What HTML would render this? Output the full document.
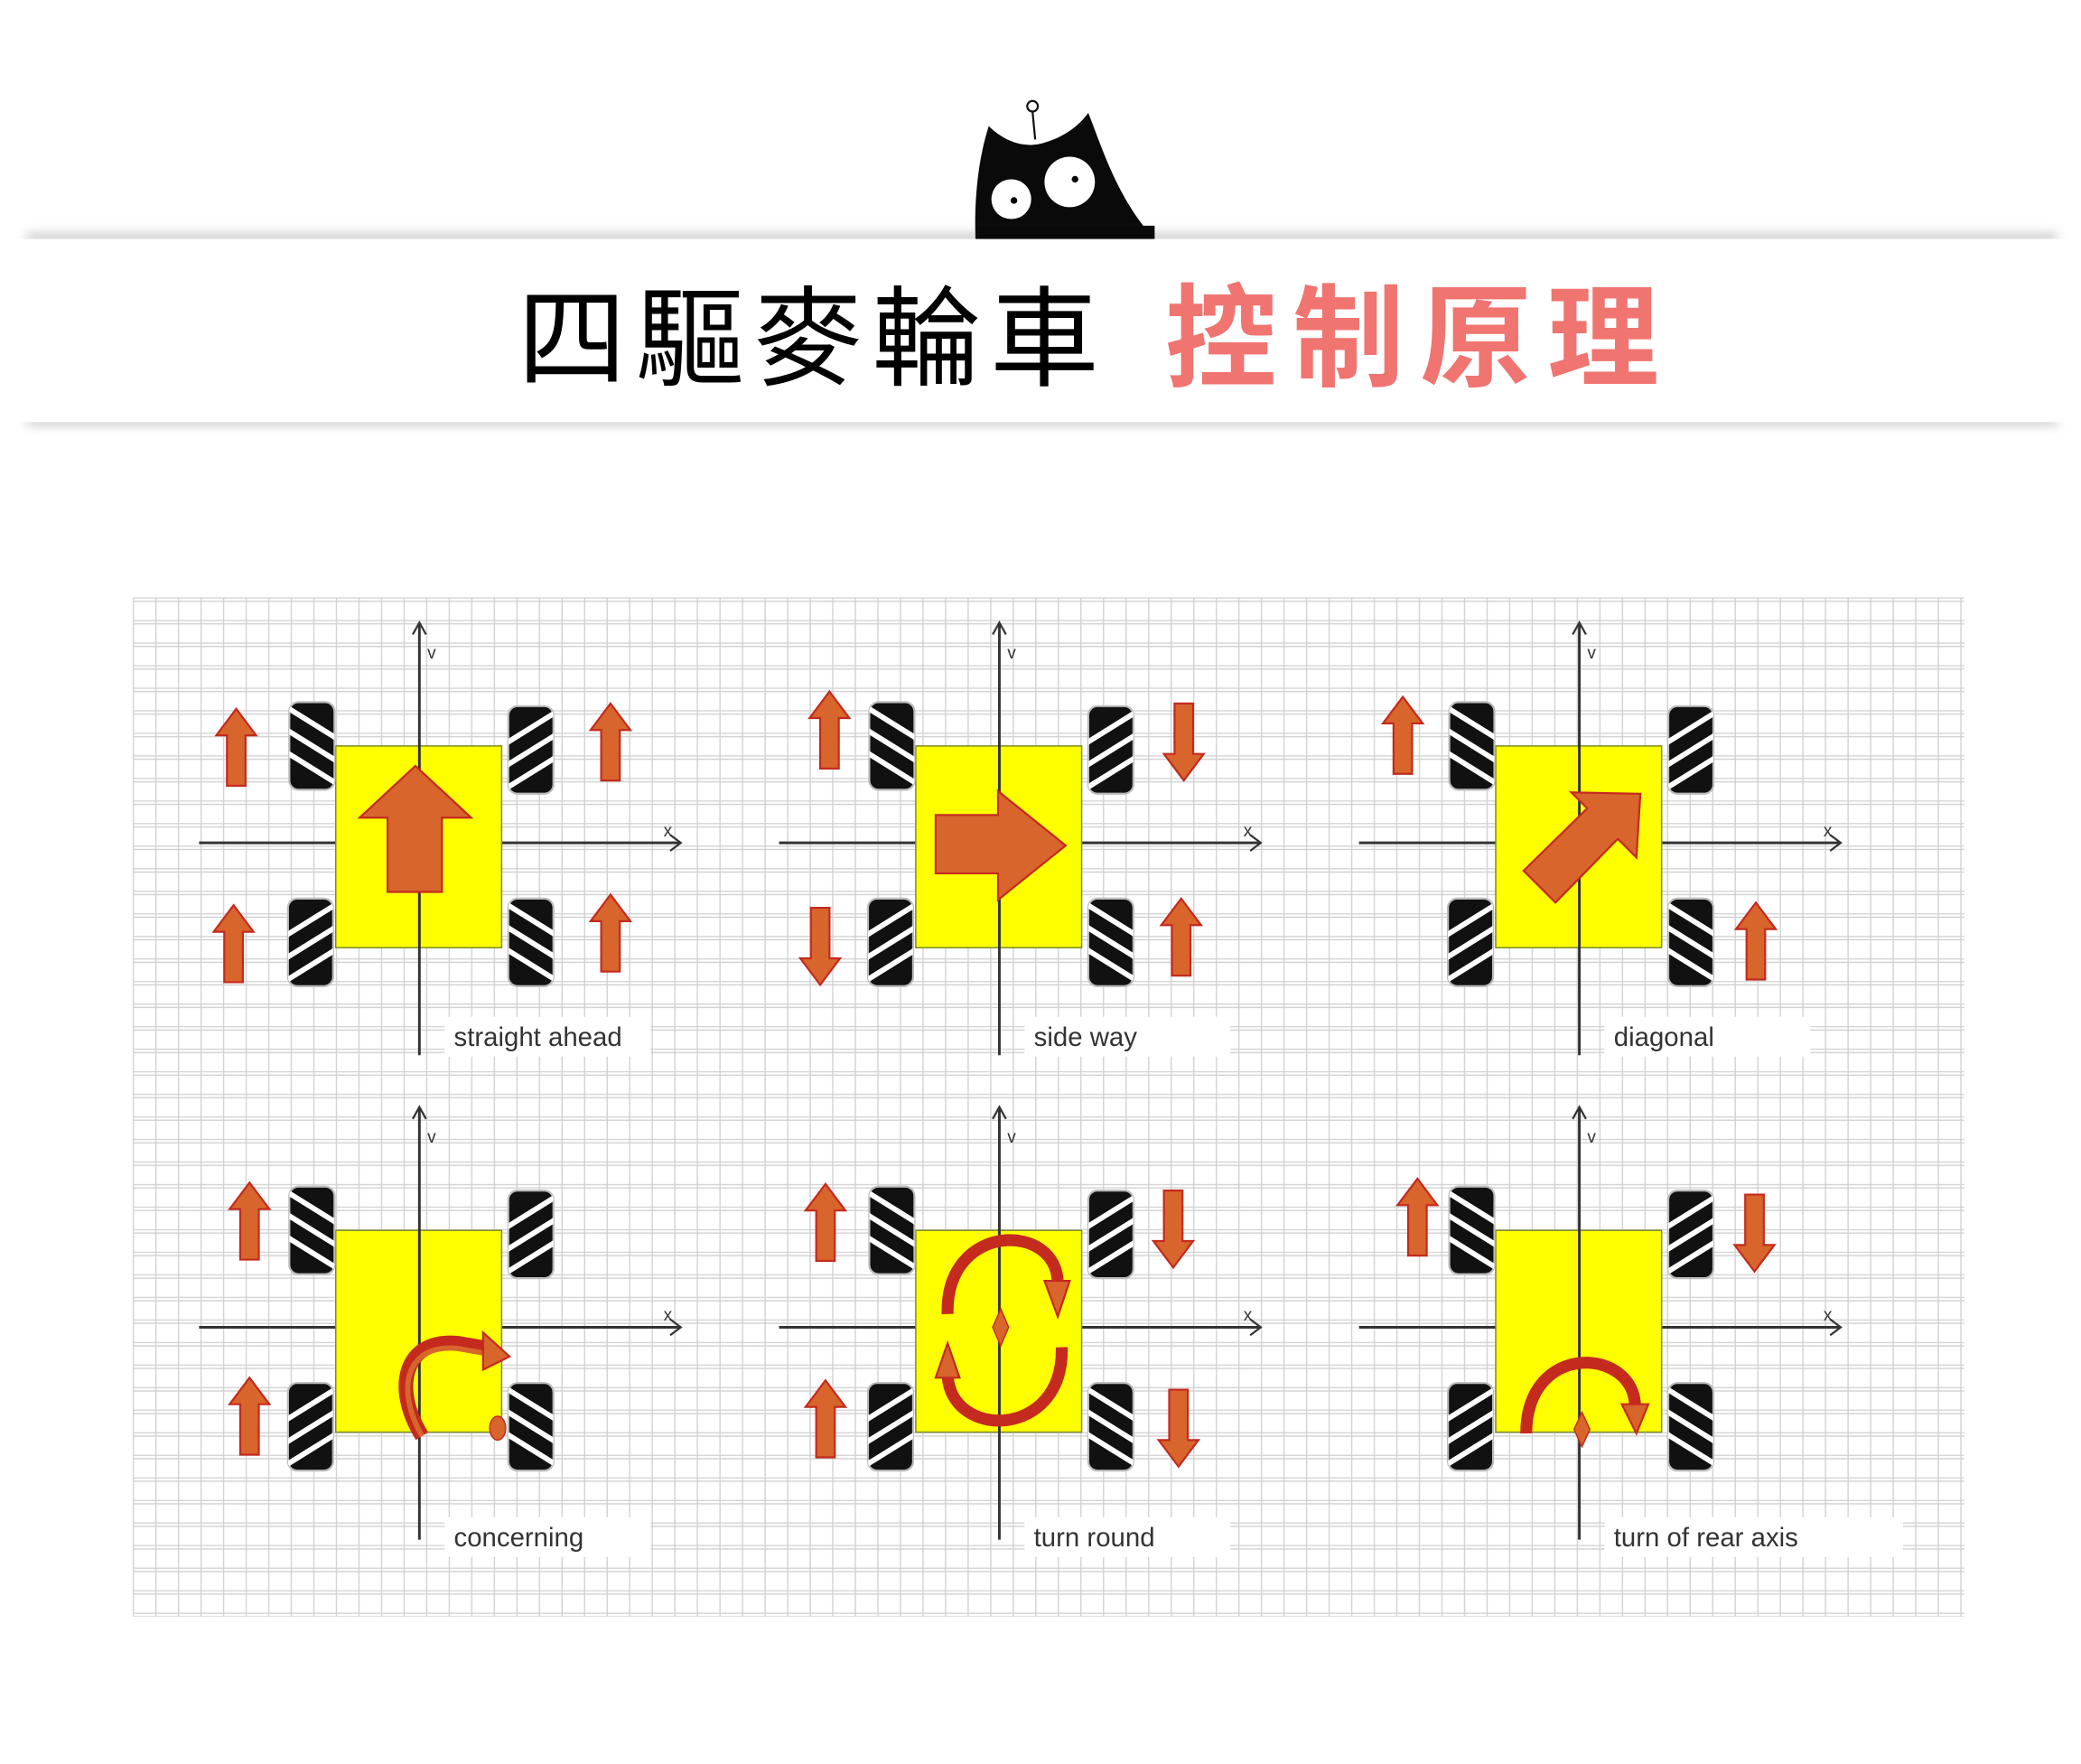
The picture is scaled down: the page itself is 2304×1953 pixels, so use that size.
<!DOCTYPE html>
<html><head><meta charset="utf-8"><style>
html,body{margin:0;padding:0;background:#fff;}
svg{display:block}
</style></head><body>
<svg width="2304" height="1953" viewBox="0 0 1568 1329" xmlns="http://www.w3.org/2000/svg">
<defs>
<pattern id="grid" width="17" height="17" patternUnits="userSpaceOnUse" x="100" y="450">
<rect width="17" height="17" fill="#fff"/>
<path d="M0 0.5H17 M0 3H17 M0.5 0V17" stroke="#d0d0d0" stroke-width="0.9" fill="none"/>
</pattern>
<filter id="blur" x="-5%" y="-200%" width="110%" height="500%"><feGaussianBlur stdDeviation="4"/></filter>
<clipPath id="wc"><rect x="0" y="0" width="34" height="66" rx="7"/></clipPath>
<g id="wA"><rect x="0" y="0" width="34" height="66" rx="7" fill="#111" stroke="#bbb" stroke-width="1.5"/>
<g clip-path="url(#wc)" stroke="#fff" stroke-width="4"><line x1="-5" y1="2" x2="40" y2="30"/><line x1="-5" y1="19" x2="40" y2="47"/><line x1="-5" y1="36" x2="40" y2="64"/></g></g>
<g id="wB"><rect x="0" y="0" width="34" height="66" rx="7" fill="#111" stroke="#bbb" stroke-width="1.5"/>
<g clip-path="url(#wc)" stroke="#fff" stroke-width="4"><line x1="-5" y1="30" x2="40" y2="2"/><line x1="-5" y1="47" x2="40" y2="19"/><line x1="-5" y1="64" x2="40" y2="36"/></g></g>
<path id="up" d="M0,0 L15,20 L7,20 L7,58 L-7,58 L-7,20 L-15,20 Z" fill="#d8652c" stroke="#c42a1e" stroke-width="1.5"/>
<g id="panel">
<line x1="150" y1="635" x2="512" y2="635" stroke="#333" stroke-width="2"/>
<path d="M505,629 L513,635 L505,641" fill="none" stroke="#333" stroke-width="1.5"/>
<text x="500" y="630" font-family="Liberation Sans,sans-serif" font-size="13" fill="#333">x</text>
<rect x="253" y="562" width="125" height="152" fill="#ffff00" stroke="#7a8a20" stroke-width="1"/>
<line x1="316" y1="470" x2="316" y2="795" stroke="#333" stroke-width="2"/>
<path d="M311,478 L316,469 L321,478" fill="none" stroke="#333" stroke-width="1.5"/>
<text x="322" y="496" font-family="Liberation Sans,sans-serif" font-size="13" fill="#333">v</text>
<use href="#wA" x="218" y="529"/>
<use href="#wB" x="383" y="532"/>
<use href="#wB" x="217" y="677"/>
<use href="#wA" x="383" y="677"/>
</g>
</defs>

<!-- cat -->
<line x1="780" y1="105" x2="778" y2="84" stroke="#111" stroke-width="1.5"/>
<circle cx="778" cy="80" r="4" fill="#fff" stroke="#111" stroke-width="1.5"/>
<path d="M735,180 C734,150 737,120 745,95 C755,105 770,112 785,108 C800,104 812,96 820,85 C830,110 842,150 870,180 Z" fill="#0a0a0a"/>
<circle cx="762" cy="150" r="15" fill="#fff"/><circle cx="806" cy="137" r="19" fill="#fff"/>
<circle cx="764" cy="151" r="2.5" fill="#000"/><circle cx="810" cy="135" r="2.5" fill="#000"/>

<!-- title band -->
<rect x="20" y="176" width="1530" height="6" fill="#999" filter="url(#blur)" opacity="0.6"/>
<rect x="20" y="314" width="1530" height="6" fill="#999" filter="url(#blur)" opacity="0.6"/>
<rect x="10" y="180" width="1550" height="138" fill="#fff"/>
<rect x="735" y="170" width="135" height="10" fill="#0a0a0a"/>
<text x="390" y="284" font-family="'Liberation Sans','Noto Sans CJK TC',sans-serif" font-size="82" fill="#000" letter-spacing="7">四驅麥輪車</text>
<text x="878" y="284" font-family="'Liberation Sans','Noto Sans CJK TC',sans-serif" font-size="84" font-weight="bold" fill="#f07470" letter-spacing="12">控制原理</text>

<!-- grid -->
<rect x="100" y="450" width="1380" height="768" fill="url(#grid)"/>

<!-- panels -->
<use href="#panel"/>
<use href="#panel" x="437"/>
<use href="#panel" x="874"/>
<use href="#panel" y="365"/>
<use href="#panel" x="437" y="365"/>
<use href="#panel" x="874" y="365"/>

<g font-family="'Comic Sans MS','Liberation Sans',sans-serif" font-size="20" fill="#333">
<rect x="335" y="766" width="155" height="30" fill="#fff"/><text x="342" y="788">straight ahead</text>
<rect x="772" y="766" width="155" height="30" fill="#fff"/><text x="779" y="788">side way</text>
<rect x="1209" y="766" width="155" height="30" fill="#fff"/><text x="1216" y="788">diagonal</text>
<rect x="335" y="1143" width="155" height="30" fill="#fff"/><text x="342" y="1165">concerning</text>
<rect x="772" y="1143" width="155" height="30" fill="#fff"/><text x="779" y="1165">turn round</text>
<rect x="1209" y="1143" width="225" height="30" fill="#fff"/><text x="1216" y="1165">turn of rear axis</text>
</g>

<!-- P1 -->
<use href="#up" x="178" y="534"/><use href="#up" x="460" y="530"/>
<use href="#up" x="176" y="682"/><use href="#up" x="460" y="674"/>
<path d="M313,577 L355,616 L333,616 L333,672 L292,672 L292,616 L271,616 Z" fill="#d8652c" stroke="#c42a1e" stroke-width="1.5"/>
<!-- P2 -->
<use href="#up" x="625" y="521"/><use href="#up" transform="translate(892,588) rotate(180)"/>
<use href="#up" transform="translate(618,742) rotate(180)"/><use href="#up" x="890" y="677"/>
<path d="M803,637 L752,596 L752,614 L705,614 L705,658 L752,658 L752,678 Z" fill="#d8652c" stroke="#c42a1e" stroke-width="1.5"/>
<!-- P3 -->
<use href="#up" x="1057" y="525"/><use href="#up" x="1323" y="680"/>
<path d="M1236,598 L1233,646 L1219,632 L1172,680 L1148,656 L1196,609 L1184,597 Z" fill="#d8652c" stroke="#c42a1e" stroke-width="1.5"/>
<!-- P4 -->
<use href="#up" x="188" y="891"/><use href="#up" x="188" y="1038"/>
<path d="M318,1082 C295,1045 305,1008 345,1012 L368,1016" fill="none" stroke="#c42a1e" stroke-width="11"/>
<path d="M318,1082 C297,1045 307,1012 345,1016 L368,1020" fill="none" stroke="#d8652c" stroke-width="4"/>
<path d="M364,1004 L384,1022 L364,1032 Z" fill="#d8652c" stroke="#c42a1e" stroke-width="1.5"/>
<ellipse cx="375" cy="1076" rx="6" ry="9" fill="#d8652c" stroke="#c42a1e"/>
<!-- P5 -->
<use href="#up" x="622" y="892"/><use href="#up" transform="translate(884,955) rotate(180)"/>
<use href="#up" x="622" y="1040"/><use href="#up" transform="translate(888,1105) rotate(180)"/>
<path d="M714,990 C712,920 798,920 797,968" fill="none" stroke="#c42a1e" stroke-width="9"/>
<path d="M787,965 L797,992 L806,965 Z" fill="#d8652c" stroke="#c42a1e" stroke-width="1.5"/>
<path d="M800,1015 C802,1085 715,1085 714,1035" fill="none" stroke="#c42a1e" stroke-width="9"/>
<path d="M705,1038 L714,1012 L723,1038 Z" fill="#d8652c" stroke="#c42a1e" stroke-width="1.5"/>
<path d="M754,986 L760,1000 L754,1014 L748,1000 Z" fill="#d8652c" stroke="#c42a1e"/>
<!-- P6 -->
<use href="#up" x="1068" y="888"/><use href="#up" transform="translate(1322,958) rotate(180)"/>
<path d="M1150,1080 C1150,1010 1232,1015 1232,1060" fill="none" stroke="#c42a1e" stroke-width="9"/>
<path d="M1222,1058 L1233,1080 L1242,1058 Z" fill="#d8652c" stroke="#c42a1e" stroke-width="1.5"/>
<path d="M1192,1064 L1198,1077 L1192,1090 L1186,1077 Z" fill="#d8652c" stroke="#c42a1e"/>
</svg>
</body></html>
